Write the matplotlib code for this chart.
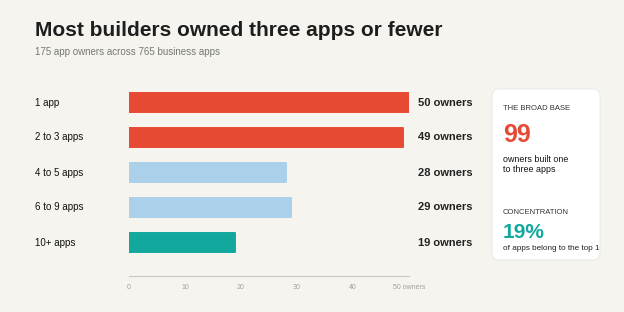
import matplotlib
matplotlib.use('Agg')
import matplotlib.pyplot as plt
from matplotlib.patches import FancyBboxPatch
from matplotlib.transforms import Bbox, TransformedBbox

# data
categories = ['1 app', '2 to 3 apps', '4 to 5 apps', '6 to 9 apps', '10+ apps']
owners = [50, 49, 28, 29, 19]
bar_colors = ['#E64A33', '#E64A33', '#AAD0EA', '#AAD0EA', '#12A89E']
tick_values = [0, 10, 20, 30, 40, 50]
tick_labels = ['0', '10', '20', '30', '40', '50 owners']

BG = '#F5F4EE'
W, H = 624, 312

plt.rcParams['font.family'] = ['Liberation Sans', 'DejaVu Sans']

fig = plt.figure(figsize=(6.24, 3.12), dpi=100)
fig.patch.set_facecolor(BG)


def fx(px):
    return px / W


def fy(py):
    return 1 - py / H


# title block
fig.text(fx(35), fy(30), 'Most builders owned three apps or fewer',
         fontsize=15, fontweight='bold', color='#1E1E1E', va='center')
fig.text(fx(35), fy(52), '175 app owners across 765 business apps',
         fontsize=7, color='#777777', va='center')

# bar axes
ax = fig.add_axes([fx(129), fy(276), fx(409) - fx(129), (276 - 85) / H])
ax.set_facecolor('none')
ax.set_xlim(0, 50)
ax.set_ylim((276 - 102.5) / 35, -0.5)

ypos = list(range(len(categories)))
ax.barh(ypos, owners, height=0.56, color=bar_colors, edgecolor=bar_colors,
        linewidth=1.4, joinstyle='round')

for i, v in enumerate(owners):
    yf = ax.transData.transform((0, i))[1] / H
    fig.text(fx(35), yf, categories[i], fontsize=7, color='#111111', va='center')
    fig.text(fx(418), yf, f'{v} owners', fontsize=8, fontweight='bold',
             color='#222222', va='center')

for s in ['top', 'right', 'left']:
    ax.spines[s].set_visible(False)
ax.spines['bottom'].set_color('#C8C8C2')
ax.spines['bottom'].set_linewidth(0.8)
ax.set_yticks([])
ax.set_xticks(tick_values)
ax.set_xticklabels(tick_labels, fontsize=5, color='#A0A0A0')
ax.tick_params(axis='x', length=0, pad=6)

# side card
card = FancyBboxPatch((fx(492), fy(260)), fx(600) - fx(492), (260 - 89) / H,
                      boxstyle='round,pad=0,rounding_size=0.012',
                      transform=fig.transFigure, fc='white', ec='#E6E6E2',
                      lw=0.6, mutation_aspect=2)
fig.patches.append(card)

fig.text(fx(503), fy(109), 'THE BROAD BASE', fontsize=5.5, color='#333333', va='center')
fig.text(fx(503), fy(135), '99', fontsize=18, fontweight='bold', color='#E64A33', va='center')
fig.text(fx(503), fy(159), 'owners built one', fontsize=6.4, color='#111111', va='center')
fig.text(fx(503), fy(170), 'to three apps', fontsize=6.4, color='#111111', va='center')
fig.text(fx(503), fy(212), 'CONCENTRATION', fontsize=5.5, color='#333333', va='center')
fig.text(fx(503), fy(232), '19%', fontsize=15, fontweight='bold', color='#12A89E', va='center')
t = fig.text(fx(503), fy(249), 'of apps belong to the top 10', fontsize=5.9,
             color='#222222', va='center')
clip = TransformedBbox(Bbox.from_extents(fx(492), fy(260), fx(600), fy(89)),
                       fig.transFigure)
t.set_clip_box(clip)
t.set_clip_on(True)

fig.savefig('out.png', dpi=100, facecolor=BG)
